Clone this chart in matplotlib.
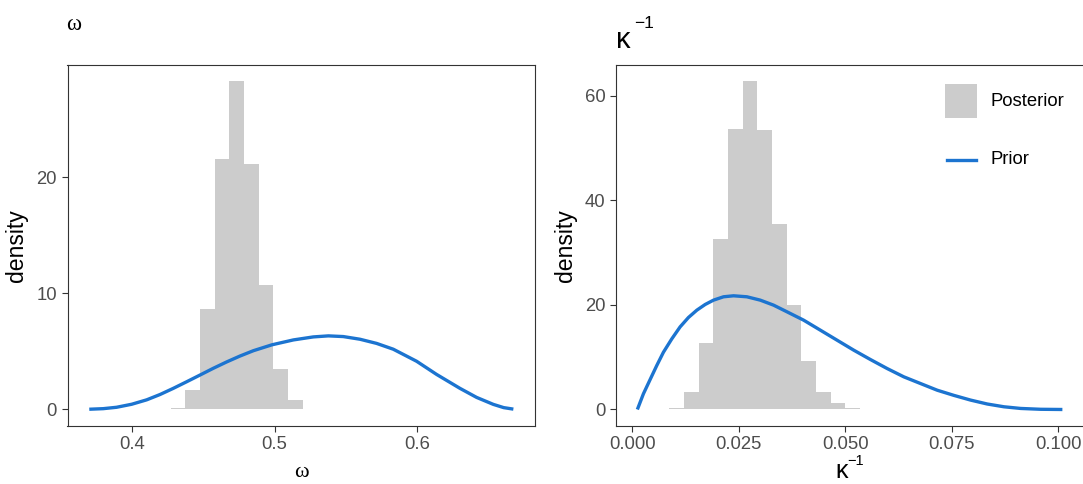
import matplotlib
matplotlib.use("Agg")
import matplotlib.pyplot as plt
from matplotlib.patches import Rectangle
from matplotlib.lines import Line2D

plt.rcParams["font.family"] = ["Liberation Sans", "DejaVu Sans"]

# ---- omega: posterior histogram (bin edges, densities) and prior density ----
omega_edges = [0.4270, 0.4373, 0.4476, 0.4579, 0.4682, 0.4785,
               0.4888, 0.4991, 0.5094, 0.5197, 0.5300]
omega_post = [0.09, 1.67, 8.63, 21.6, 28.35, 21.15, 10.7, 3.48, 0.8, 0.06]
omega_prior_x = [0.3698, 0.3796, 0.3890, 0.3996, 0.4101, 0.4195, 0.4288,
                 0.4382, 0.4476, 0.4569, 0.4663, 0.4757, 0.4851, 0.4982,
                 0.5132, 0.5272, 0.5378, 0.5483, 0.5600, 0.5717, 0.5834,
                 0.5998, 0.6139, 0.6303, 0.6420, 0.6537, 0.6610, 0.6678]
omega_prior_y = [0.0, 0.05, 0.17, 0.43, 0.81, 1.27, 1.80, 2.37, 2.95, 3.53,
                 4.08, 4.59, 5.05, 5.56, 5.98, 6.24, 6.33, 6.27, 6.04, 5.68,
                 5.18, 4.14, 3.00, 1.80, 1.02, 0.42, 0.14, 0.01]
omega_ticks = [0.4, 0.5, 0.6]
omega_tick_labels = ["0.4", "0.5", "0.6"]
omega_yticks = [0, 10, 20]

# ---- kappa^-1: posterior histogram and prior density ----
kinv_edges = [0.00871, 0.01216, 0.01560, 0.01905, 0.02249, 0.02594, 0.02938,
              0.03283, 0.03627, 0.03972, 0.04316, 0.04661, 0.05005, 0.05350,
              0.05694]
kinv_post = [0.32, 3.38, 12.75, 32.6, 53.6, 62.8, 53.4, 35.5, 19.95, 9.24,
             3.31, 1.21, 0.38, 0.06]
kinv_prior_x = [0.00118, 0.0026, 0.00416, 0.00573, 0.0073, 0.00926, 0.01122,
                0.01318, 0.01515, 0.01711, 0.01907, 0.02142, 0.02377, 0.02691,
                0.03005, 0.03318, 0.03632, 0.04024, 0.04416, 0.04809, 0.05201,
                0.05593, 0.05985, 0.06377, 0.06769, 0.07162, 0.07554, 0.07946,
                0.08338, 0.0873, 0.09122, 0.09593, 0.10103]
kinv_prior_y = [0.0, 3.0, 5.7, 8.4, 10.95, 13.5, 15.8, 17.6, 19.0,
                20.09, 20.92, 21.56, 21.75, 21.56, 20.92, 19.96, 18.69, 17.09,
                15.18, 13.26, 11.35, 9.56, 7.84, 6.25, 4.97, 3.69, 2.70, 1.80,
                1.05, 0.52, 0.20, 0.04, 0.0]
kinv_ticks = [0.0, 0.025, 0.05, 0.075, 0.1]
kinv_tick_labels = ["0.000", "0.025", "0.050", "0.075", "0.100"]
kinv_yticks = [0, 20, 40, 60]

legend_labels = ["Posterior", "Prior"]

HIST_COLOR = "#CCCCCC"
LINE_COLOR = "#1C74D0"
FRAME_COLOR = "#333333"
TICK_TEXT = "#4D4D4D"

W, H = 1083, 484
fig = plt.figure(figsize=(W / 100, H / 100), dpi=100)


def px_box(x0, y0, x1, y1):
    return [x0 / W, 1 - y1 / H, (x1 - x0) / W, (y1 - y0) / H]


def ftext(x, y, s, **kw):
    """Place text using pixel coordinates measured from the top-left."""
    return fig.text(x / W, 1 - y / H, s, **kw)


ax1 = fig.add_axes(px_box(67.5, 65, 535, 425.7))
ax2 = fig.add_axes(px_box(616, 65, 1083.5, 425.7))


def draw_panel(ax, edges, heights, px, py, xlim, ylim, xt, xtl, yt):
    lefts = edges[:-1]
    widths = [b - a for a, b in zip(edges[:-1], edges[1:])]
    ax.bar(lefts, heights, width=widths, align="edge", color=HIST_COLOR,
           edgecolor="none", linewidth=0, zorder=2)
    ax.plot(px, py, color=LINE_COLOR, lw=2.4, solid_capstyle="butt",
            solid_joinstyle="round", zorder=3)
    ax.set_xlim(*xlim)
    ax.set_ylim(*ylim)
    ax.set_xticks(xt)
    ax.set_xticklabels(xtl)
    ax.set_yticks(yt)
    ax.set_yticklabels([str(v) for v in yt])
    ax.tick_params(axis="both", length=4.2, width=0.8, color=FRAME_COLOR,
                   labelsize=13.3, labelcolor=TICK_TEXT, pad=3.3)
    for s in ax.spines.values():
        s.set_color(FRAME_COLOR)
        s.set_linewidth(0.8)
    ax.set_ylabel("density", fontsize=16.6, labelpad=6)


draw_panel(ax1, omega_edges, omega_post, omega_prior_x, omega_prior_y,
           (0.3545, 0.683), (-1.42, 29.7), omega_ticks, omega_tick_labels,
           omega_yticks)
draw_panel(ax2, kinv_edges, kinv_post, kinv_prior_x, kinv_prior_y,
           (-0.00384, 0.10599), (-3.1, 65.9), kinv_ticks, kinv_tick_labels,
           kinv_yticks)

# x-axis titles
ftext(301.5, 477, "ω", fontsize=16, family="Liberation Serif",
      ha="center", va="baseline")
ftext(835, 483, "κ", fontsize=18, ha="left", va="bottom")
ftext(847, 465, "−1", fontsize=10.5, ha="left", va="baseline")

# panel titles
ftext(66, 30, "ω", fontsize=16.5, family="Liberation Serif",
      ha="left", va="baseline")
ftext(616, 48.5, "κ", fontsize=21, ha="left", va="baseline")
ftext(634, 28.5, "−1", fontsize=12.5, ha="left", va="baseline")

# legend inside the right panel
fig.add_artist(Rectangle((945 / W, 1 - 118 / H), 32 / W, 34 / H,
                         transform=fig.transFigure, facecolor=HIST_COLOR,
                         edgecolor="none"))
fig.add_artist(Line2D([947 / W, 976 / W], [1 - 159.5 / H, 1 - 159.5 / H],
                      transform=fig.transFigure, color=LINE_COLOR, lw=2.4))
ftext(991, 102, legend_labels[0], fontsize=13.3, ha="left", va="center")
ftext(991, 160, legend_labels[1], fontsize=13.3, ha="left", va="center")

fig.savefig("out.png", dpi=100)
